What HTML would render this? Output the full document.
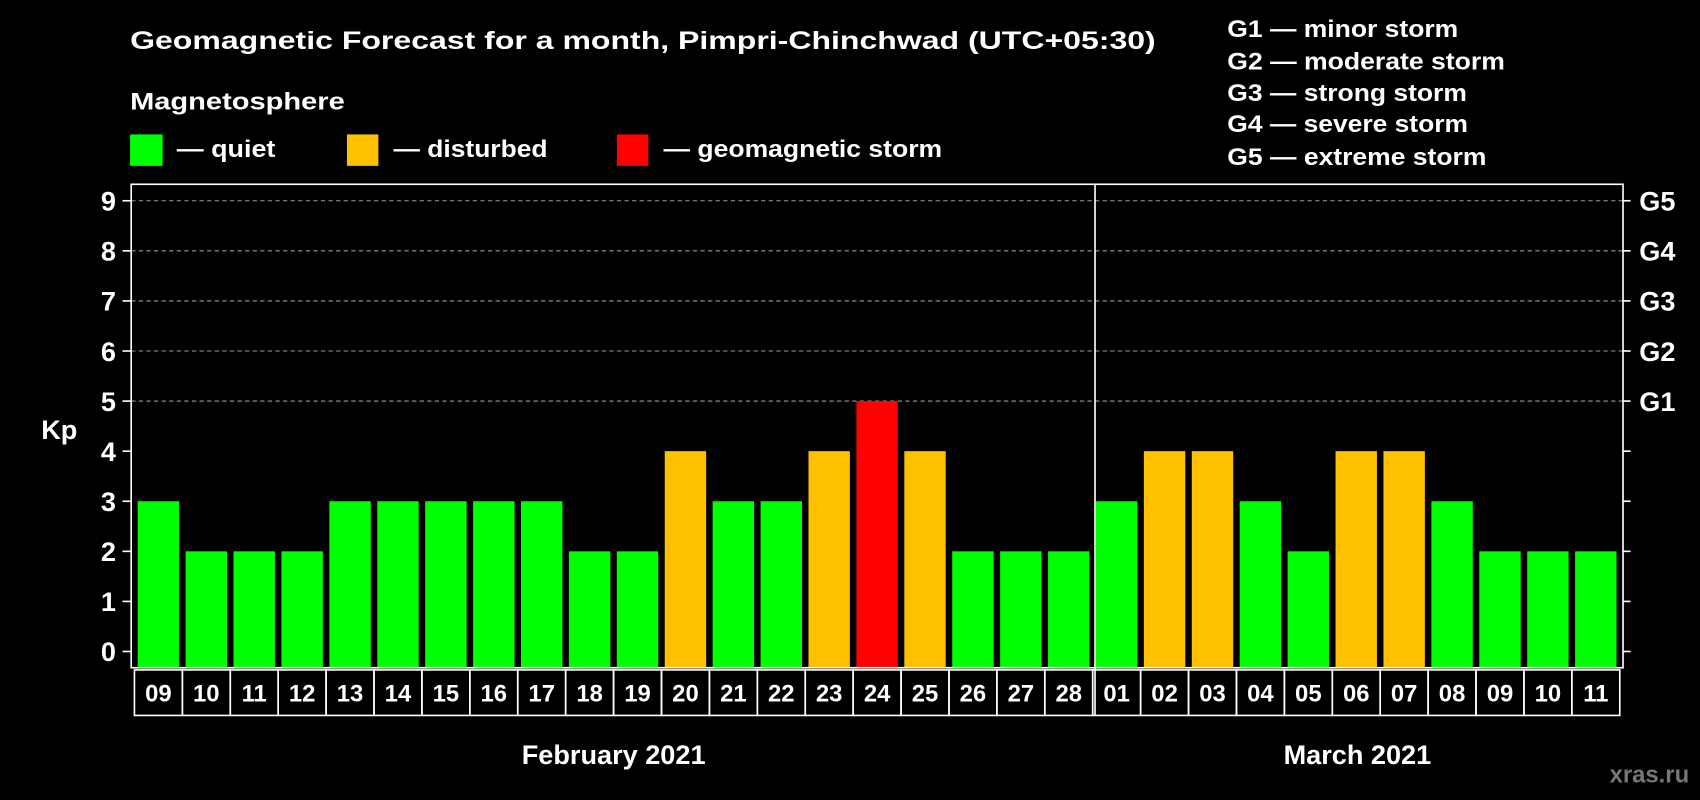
<!DOCTYPE html>
<html><head><meta charset="utf-8"><style>
html,body{margin:0;padding:0;background:#000;}
svg{display:block;font-family:"Liberation Sans",Arial,sans-serif;font-weight:bold;}
</style></head><body>
<svg id="chart" width="1700" height="800" viewBox="0 0 1568 738" preserveAspectRatio="none">
<rect width="1568" height="738" fill="#000"/>
<text x="120" y="45" fill="#fff" font-size="23" textLength="946" lengthAdjust="spacingAndGlyphs">Geomagnetic Forecast for a month, Pimpri-Chinchwad (UTC+05:30)</text>
<text x="120" y="101" fill="#fff" font-size="22" textLength="198" lengthAdjust="spacingAndGlyphs">Magnetosphere</text>
<g><rect x="120" y="124" width="30" height="29" fill="#00ff00"/><text x="163" y="145" fill="#fff" font-size="22" textLength="91" lengthAdjust="spacingAndGlyphs">— quiet</text></g>
<g><rect x="320" y="124" width="29" height="29" fill="#ffc000"/><text x="363" y="145" fill="#fff" font-size="22" textLength="142" lengthAdjust="spacingAndGlyphs">— disturbed</text></g>
<g><rect x="569" y="124" width="29" height="29" fill="#ff0000"/><text x="612" y="145" fill="#fff" font-size="22" textLength="257" lengthAdjust="spacingAndGlyphs">— geomagnetic storm</text></g>
<g fill="#fff" font-size="22">
<text x="1132" y="34" textLength="213" lengthAdjust="spacingAndGlyphs">G1 — minor storm</text>
<text x="1132" y="64" textLength="256" lengthAdjust="spacingAndGlyphs">G2 — moderate storm</text>
<text x="1132" y="93" textLength="221" lengthAdjust="spacingAndGlyphs">G3 — strong storm</text>
<text x="1132" y="122" textLength="222" lengthAdjust="spacingAndGlyphs">G4 — severe storm</text>
<text x="1132" y="152" textLength="239" lengthAdjust="spacingAndGlyphs">G5 — extreme storm</text>
</g>
<text x="38" y="405" fill="#fff" font-size="25">Kp</text>
<g id="grid"></g><g id="bars"></g><g id="axes"></g><g id="labels"></g>
<text x="566" y="705" fill="#fff" font-size="25" text-anchor="middle">February 2021</text>
<text x="1252" y="705" fill="#fff" font-size="25" text-anchor="middle">March 2021</text>
<text x="1558" y="722" fill="#777" font-size="22" text-anchor="end">xras.ru</text>
</svg>
<script>
const febDays=["09","10","11","12","13","14","15","16","17","18","19","20","21","22","23","24","25","26","27","28"];
const febValues=[3,2,2,2,3,3,3,3,3,2,2,4,3,3,4,5,4,2,2,2];
const marDays=["01","02","03","04","05","06","07","08","09","10","11"];
const marValues=[3,4,4,3,2,4,4,3,2,2,2];
const yTicks=[0,1,2,3,4,5,6,7,8,9];
const gLabels=["G1","G2","G3","G4","G5"];
const NS="http://www.w3.org/2000/svg";
const L=121,R=1497,DIV=1010,TOP=170,BOT=616;
const PITCH=(R-L-6)/31;
function y(v){return 601-v*46.2;}
function mk(tag,attrs,parent){const e=document.createElementNS(NS,tag);for(const k in attrs)e.setAttribute(k,attrs[k]);parent.appendChild(e);return e;}
function color(v){return v>=5?"#ff0000":v>=4?"#ffc000":"#00ff00";}
const grid=document.getElementById("grid"),bars=document.getElementById("bars"),axes=document.getElementById("axes"),labels=document.getElementById("labels");
yTicks.forEach(t=>{
  if(t>=5){const g=mk("line",{x1:L,x2:R,y1:y(t),y2:y(t),stroke:"#999","stroke-dasharray":"4,3","stroke-width":1},grid);
  
  }
  const tl=mk("line",{x1:113,x2:L,y1:y(t),y2:y(t),stroke:"#fff","stroke-width":1.5},axes);
  
  
  const tr=mk("line",{x1:R,x2:R+7,y1:y(t),y2:y(t),stroke:"#fff","stroke-width":1.5},axes);
  
  
  const lab=mk("text",{x:107,y:y(t)+9,fill:"#fff","font-size":25,"text-anchor":"end"},axes);
  lab.textContent=t;
  
  
});
gLabels.forEach((g,i)=>{
  const lab=mk("text",{x:1512,y:y(5+i)+9,fill:"#fff","font-size":25},axes);
  lab.textContent=g;
  
  
});
function drawMonth(days,vals,startIdx){
  days.forEach((d,i)=>{
    const v=vals[i];
    const x0=L+3+(startIdx+i)*PITCH;
    const b=mk("rect",{x:x0+3,y:y(v),width:PITCH-6,height:BOT-y(v),fill:color(v)},bars);
    
    
    const c=mk("rect",{x:x0,y:618,width:PITCH,height:42,fill:"none",stroke:"#fff","stroke-width":1.5},labels);
    
    
    const t=mk("text",{x:x0+PITCH/2,y:647,fill:"#fff","font-size":22,"text-anchor":"middle"},labels);
    t.textContent=d;
    
    
  });
}
drawMonth(febDays,febValues,0);
drawMonth(marDays,marValues,febDays.length);
const frame=mk("rect",{x:L,y:TOP,width:R-L,height:BOT-TOP,fill:"none",stroke:"#fff","stroke-width":1.5},axes);


const dv=mk("line",{x1:DIV,x2:DIV,y1:TOP,y2:660,stroke:"#fff","stroke-width":1.5},axes);


</script>
</body></html>
